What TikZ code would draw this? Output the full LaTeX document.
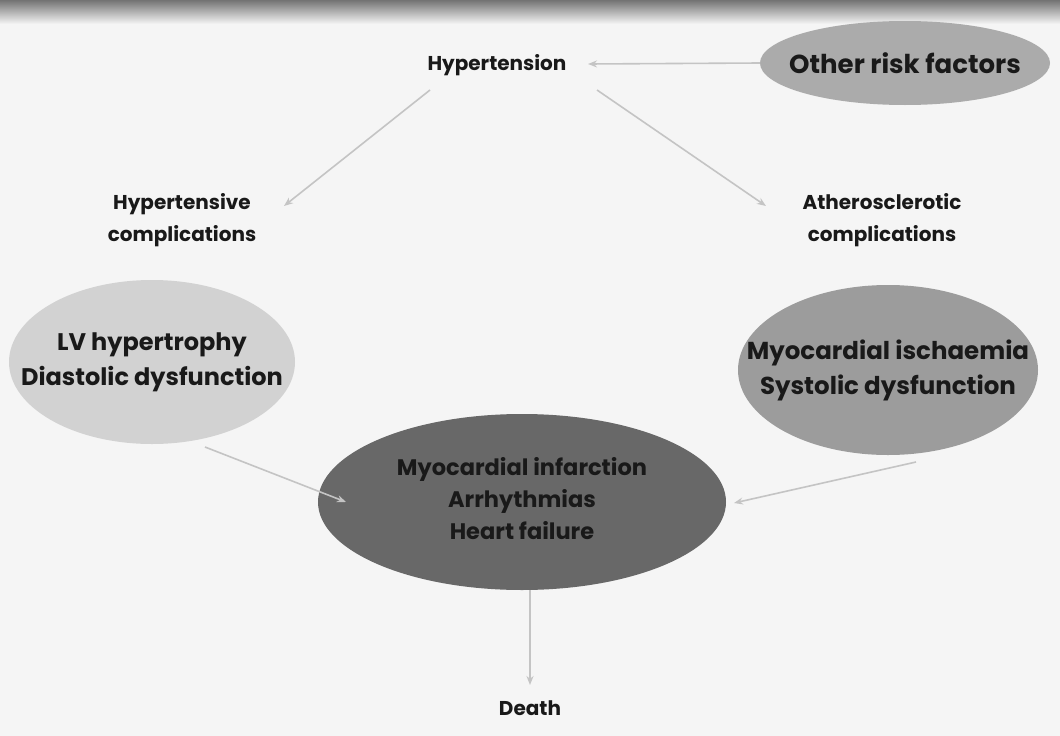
\documentclass[tikz,border=0pt]{standalone}
\usepackage{fontspec}
\setmainfont{Poppins}
\usetikzlibrary{shapes.geometric,arrows.meta}
\definecolor{bgc}{HTML}{F5F5F5}
\definecolor{arrc}{HTML}{C4C4C4}
\definecolor{fillA}{HTML}{ABABAB}
\definecolor{fillB}{HTML}{D2D2D2}
\definecolor{fillC}{HTML}{9C9C9C}
\definecolor{fillD}{HTML}{686868}
\newcommand{\fsz}[2]{\fontsize{#1}{#2}\selectfont}
\tikzset{
  x=1pt, y=-1pt,
  lbl/.style={font=\bfseries\fsz{20}{32}, align=center, text=black!90, inner sep=0pt},
  oval/.style={ellipse, draw=none, inner sep=0pt},
  ovaltext/.style={align=center, text=black!90, inner sep=0pt},
  conn/.style={draw=arrc, line width=1.6pt, -{Stealth[length=9pt,width=7pt]}}
}
\begin{document}
\begin{tikzpicture}
\useasboundingbox (0,0) rectangle (1060,736);
\fill[bgc] (0,0) rectangle (1060,736);
\shade[top color=black!55, bottom color=bgc] (0,0) rectangle (1060,24);
% shapes
\node[oval, fill=fillA, minimum width=290pt, minimum height=84pt] (other) at (905,63) {};
\node[oval, fill=fillB, minimum width=286pt, minimum height=164pt] (lv) at (152,362) {};
\node[oval, fill=fillC, minimum width=300pt, minimum height=170pt] (isch) at (888,370) {};
\node[oval, fill=fillD, minimum width=408pt, minimum height=176pt] (mi) at (522,502) {};
% texts
\node[lbl] (hyp) at (497,65) {Hypertension};
\node[ovaltext, font=\bfseries\fsz{26}{34}] (othert) at (other.center) {Other risk factors};
\node[lbl] (hcomp) at (182,220) {Hypertensive\\complications};
\node[lbl] (acomp) at (882,220) {Atherosclerotic\\complications};
\node[ovaltext, font=\bfseries\fsz{24}{35}] (lvt) at (lv.center) {LV hypertrophy\\Diastolic dysfunction};
\node[ovaltext, font=\bfseries\fsz{24.5}{35}] (ischt) at (isch.center) {Myocardial ischaemia\\Systolic dysfunction};
\node[ovaltext, font=\bfseries\fsz{22.5}{32}] (mit) at (522,499) {Myocardial infarction\\Arrhythmias\\Heart failure};
\node[lbl] (death) at (530,708) {Death};
% connectors
\coordinate (o1) at (760,63);
\coordinate (h1) at (588,64);
\coordinate (h2) at (430,90);
\coordinate (hc) at (284,206);
\coordinate (h3) at (597,90);
\coordinate (ac) at (766,206);
\coordinate (lv1) at (205,447);
\coordinate (mi1) at (346,502);
\coordinate (is1) at (916,462);
\coordinate (mi2) at (734,503);
\coordinate (mi3) at (530,590);
\coordinate (d1) at (530,685);
\draw[conn] (o1) -- (h1);
\draw[conn] (h2) -- (hc);
\draw[conn] (h3) -- (ac);
\draw[conn] (lv1) -- (mi1);
\draw[conn] (is1) -- (mi2);
\draw[conn] (mi3) -- (d1);
\end{tikzpicture}
\end{document}
